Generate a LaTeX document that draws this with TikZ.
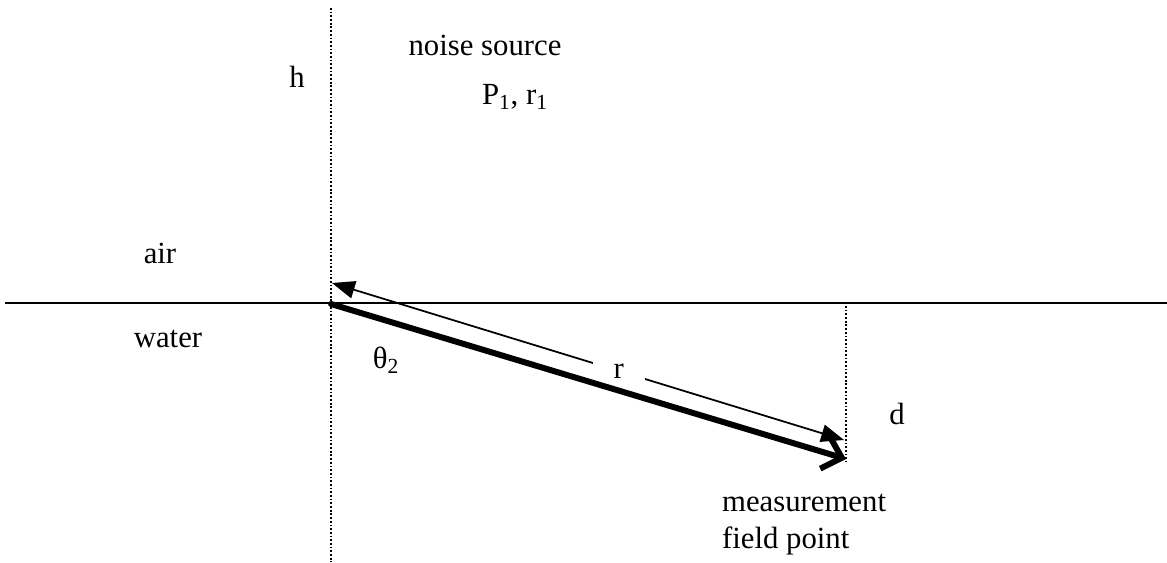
\documentclass[tikz,border=0pt]{standalone}
\usepackage{fontspec}
\setmainfont{Liberation Serif}
\usetikzlibrary{arrows.meta}

\begin{document}
\begin{tikzpicture}[x=0.02cm,y=-0.02cm]
    \tikzset{lbl/.style={font=\fontsize{17.5}{21}\selectfont,inner sep=1pt},
      guide/.style={line width=1.3pt,dash pattern=on 1pt off 1.1pt},
      surface/.style={line width=1.1pt},
      raypath/.style={line width=3.4pt,line cap=round,
        -{Straight Barb[length=10pt,width=19pt,line width=3.4pt]}},
      dimarrow/.style={line width=1pt,
        {Triangle[length=13pt,width=10pt]}-{Triangle[length=13pt,width=10pt]}}}
    \useasboundingbox (0,0) rectangle (1167,563);

    % geometry
    \coordinate (surfL) at (5,303);
    \coordinate (surfR) at (1167,303);
    \coordinate (axisTop) at (331,8);
    \coordinate (axisBot) at (331,562);
    \coordinate (src) at (331,304);
    \coordinate (fld) at (846,459);
    \coordinate (dTop) at (846,306);
    \coordinate (dBot) at (846,462);
    \coordinate (rTop) at (332,283);
    \coordinate (rBot) at (844,440);

    \draw[surface] (surfL) -- (surfR);
    \draw[guide] (axisTop) -- (axisBot);
    \draw[guide] (dTop) -- (dBot);

    % distance r and ray
    \draw[dimarrow] (rTop) -- node[lbl,pos=0.56,fill=white,inner xsep=12pt] (r) {r} (rBot);
    \draw[raypath] (src) -- (fld);

    % labels
    \foreach \x/\y/\id/\t in {297/77/h/h, 485/45/noise/{noise source},
                              515/97/pr/{P\textsubscript{1}, r\textsubscript{1}},
                              160/253/air/air, 168/339/water/water,
                              386/360/theta/{θ\textsubscript{2}}, 897/414/d/d}{
      \node[lbl] (\id) at (\x,\y) {\t};
    }
    \node[lbl,align=left,anchor=north west] (meas) at (720,492) {measurement\\field point};
  \end{tikzpicture}
\end{document}
